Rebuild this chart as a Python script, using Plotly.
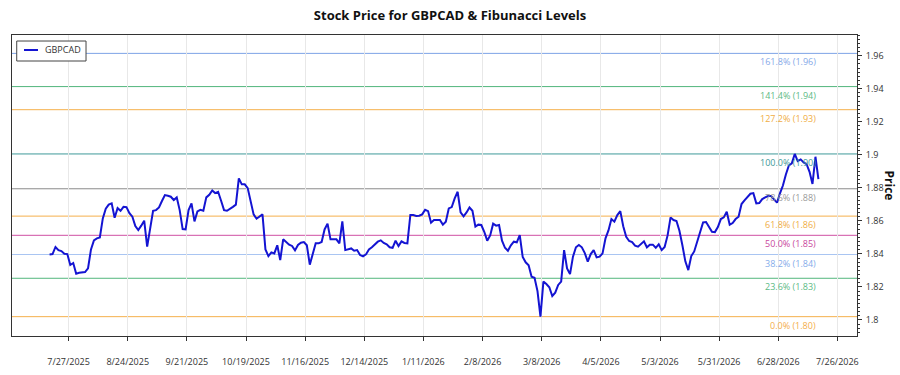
import pandas as pd
import plotly.graph_objects as go

TICKER = "GBPCAD"
START_DATE = "2025-07-18"
END_DATE = "2026-07-17"

PRICE = [
    1.8397, 1.8399, 1.8442, 1.8423, 1.8417, 1.8401, 1.8399, 1.8333, 1.8345, 1.8280,
    1.8286, 1.8290, 1.8290, 1.8312, 1.8427, 1.8482, 1.8494, 1.8500, 1.8615, 1.8673,
    1.8698, 1.8706, 1.8619, 1.8677, 1.8661, 1.8685, 1.8683, 1.8647, 1.8625, 1.8569,
    1.8544, 1.8571, 1.8601, 1.8444, 1.8544, 1.8661, 1.8665, 1.8681, 1.8720, 1.8756,
    1.8752, 1.8746, 1.8726, 1.8742, 1.8665, 1.8550, 1.8548, 1.8665, 1.8706, 1.8597,
    1.8657, 1.8667, 1.8661, 1.8742, 1.8758, 1.8784, 1.8768, 1.8776, 1.8722, 1.8665,
    1.8661, 1.8671, 1.8685, 1.8698, 1.8857, 1.8821, 1.8821, 1.8798, 1.8716, 1.8639,
    1.8613, 1.8625, 1.8639, 1.8427, 1.8387, 1.8409, 1.8403, 1.8452, 1.8363, 1.8488,
    1.8470, 1.8456, 1.8448, 1.8421, 1.8454, 1.8468, 1.8472, 1.8452, 1.8335, 1.8395,
    1.8464, 1.8464, 1.8472, 1.8548, 1.8583, 1.8488, 1.8488, 1.8488, 1.8464, 1.8597,
    1.8423, 1.8427, 1.8433, 1.8419, 1.8423, 1.8393, 1.8385, 1.8397, 1.8427, 1.8440,
    1.8456, 1.8474, 1.8482, 1.8466, 1.8458, 1.8440, 1.8437, 1.8480, 1.8448, 1.8476,
    1.8466, 1.8464, 1.8635, 1.8635, 1.8629, 1.8631, 1.8639, 1.8667, 1.8659, 1.8589,
    1.8605, 1.8605, 1.8605, 1.8577, 1.8595, 1.8675, 1.8683, 1.8736, 1.8776, 1.8651,
    1.8627, 1.8651, 1.8681, 1.8661, 1.8565, 1.8577, 1.8575, 1.8534, 1.8480, 1.8512,
    1.8583, 1.8571, 1.8575, 1.8480, 1.8437, 1.8419, 1.8452, 1.8474, 1.8470, 1.8514,
    1.8381, 1.8349, 1.8331, 1.8262, 1.8256, 1.8175, 1.8020, 1.8232, 1.8218, 1.8198,
    1.8145, 1.8165, 1.8212, 1.8232, 1.8423, 1.8312, 1.8278, 1.8383, 1.8440, 1.8454,
    1.8440, 1.8405, 1.8353, 1.8399, 1.8423, 1.8379, 1.8383, 1.8403, 1.8494, 1.8542,
    1.8611, 1.8595, 1.8635, 1.8659, 1.8567, 1.8504, 1.8478, 1.8472, 1.8450, 1.8444,
    1.8460, 1.8476, 1.8440, 1.8456, 1.8456, 1.8437, 1.8458, 1.8423, 1.8442, 1.8512,
    1.8621, 1.8605, 1.8599, 1.8540, 1.8452, 1.8355, 1.8302, 1.8387, 1.8415, 1.8472,
    1.8538, 1.8591, 1.8593, 1.8560, 1.8534, 1.8532, 1.8562, 1.8611, 1.8621, 1.8655,
    1.8577, 1.8587, 1.8611, 1.8625, 1.8702, 1.8724, 1.8742, 1.8764, 1.8768, 1.8706,
    1.8708, 1.8732, 1.8742, 1.8750, 1.8750, 1.8730, 1.8710, 1.8766, 1.8814, 1.8881,
    1.8935, 1.8948, 1.9005, 1.8962, 1.8972, 1.8954, 1.8943, 1.8897, 1.8823, 1.8988,
    1.8853,
]

FIB_RATIOS = [0.0, 0.236, 0.382, 0.5, 0.618, 0.786, 1.0, 1.272, 1.414, 1.618]
FIB_LINE_COLORS = ["#f5b04c", "#52b67c", "#a9c5f2", "#cf4fa3", "#f5b04c",
                   "#8a8a8a", "#3f9a9a", "#f5b04c", "#52b67c", "#7ea3e6"]
FIB_TEXT_COLORS = ["#f4ae4a", "#5cba85", "#86acea", "#c9489d", "#f0ad45",
                   "#9a9a9a", "#3e9898", "#f0ad45", "#5cba85", "#86a9e8"]

TICK_DATES = ["2025-07-27", "2025-08-24", "2025-09-21", "2025-10-19", "2025-11-16",
              "2025-12-14", "2026-01-11", "2026-02-08", "2026-03-08", "2026-04-05",
              "2026-05-03", "2026-05-31", "2026-06-28", "2026-07-26"]
TICK_LABELS = ["7/27/2025", "8/24/2025", "9/21/2025", "10/19/2025", "11/16/2025",
               "12/14/2025", "1/11/2026", "2/8/2026", "3/8/2026", "4/5/2026",
               "5/3/2026", "5/31/2026", "6/28/2026", "7/26/2026"]

FONT = "Open Sans, Noto Sans, sans-serif"
LINE_COLOR = "#1414d2"

dates = pd.date_range(START_DATE, END_DATE, periods=len(PRICE))
low, high = min(PRICE), max(PRICE)
span = high - low

fig = go.Figure()
fig.add_trace(go.Scatter(
    x=dates, y=PRICE, mode="lines", name=TICKER,
    line=dict(color=LINE_COLOR, width=2), showlegend=False,
))

shapes = []
annotations = []
for ratio, lc, tc in zip(FIB_RATIOS, FIB_LINE_COLORS, FIB_TEXT_COLORS):
    level = low + ratio * span
    shapes.append(dict(type="line", xref="paper", x0=0, x1=1, yref="y",
                       y0=level, y1=level, line=dict(color=lc, width=1), layer="below"))
    annotations.append(dict(x=dates[-1], y=level, xref="x", yref="y",
                            text=f"{ratio*100:.1f}% ({level:.2f})",
                            showarrow=False, xanchor="right", yanchor="top",
                            font=dict(family=FONT, size=9, color=tc)))

# legend box (top-left inside the plot area)
shapes.append(dict(type="rect", xref="paper", yref="paper",
                   x0=0.0056, x1=0.0876, y0=0.9136, y1=0.980,
                   line=dict(color="#444", width=1), fillcolor="white", layer="above"))
shapes.append(dict(type="line", xref="paper", yref="paper",
                   x0=0.0142, x1=0.0308, y0=0.9502, y1=0.9502,
                   line=dict(color=LINE_COLOR, width=2), layer="above"))
annotations.append(dict(x=0.0367, y=0.9502, xref="paper", yref="paper", text=TICKER,
                        showarrow=False, xanchor="left", yanchor="middle",
                        font=dict(family=FONT, size=9, color="#333")))

annotations.append(dict(x=1.039, y=0.5, xref="paper", yref="paper", text="<b>Price</b>",
                        showarrow=False, textangle=90, xanchor="center", yanchor="middle",
                        font=dict(family=FONT, size=12, color="#111")))

fig.update_layout(
    width=900, height=375,
    margin=dict(l=12, r=43, t=35, b=39, autoexpand=False),
    paper_bgcolor="white", plot_bgcolor="white",
    title=dict(text="<b>Stock Price for GBPCAD & Fibunacci Levels</b>",
               x=0.5, xref="container", xanchor="center",
               y=1 - 15 / 375, yref="container", yanchor="middle",
               font=dict(family=FONT, size=13, color="#111")),
    showlegend=False,
    shapes=shapes,
    annotations=annotations,
    font=dict(family=FONT, size=9, color="#333"),
)

fig.update_xaxes(
    type="date",
    range=["2025-06-30 05:00", "2026-08-04 06:30"],
    tickvals=TICK_DATES, ticktext=TICK_LABELS,
    showgrid=True, gridcolor="#e8e8e8", gridwidth=1,
    showline=True, linecolor="#333", linewidth=1, mirror=True,
    ticks="outside", ticklen=4, tickcolor="#333",
    ticklabelstandoff=13, automargin=False,
    tickfont=dict(family=FONT, size=9, color="#333"),
    zeroline=False,
)
fig.update_yaxes(
    side="right",
    range=[1.7903, 1.9725],
    tick0=1.8, dtick=0.02,
    showgrid=False, zeroline=False,
    showline=True, linecolor="#333", linewidth=1, mirror=True,
    ticks="outside", ticklen=4, tickcolor="#333",
    minor=dict(tick0=1.8, dtick=0.0025, ticks="outside", ticklen=2, tickcolor="#333", showgrid=False),
    ticklabelstandoff=2, automargin=False,
    tickfont=dict(family=FONT, size=9, color="#333"),
)

fig.write_html("out.html")
